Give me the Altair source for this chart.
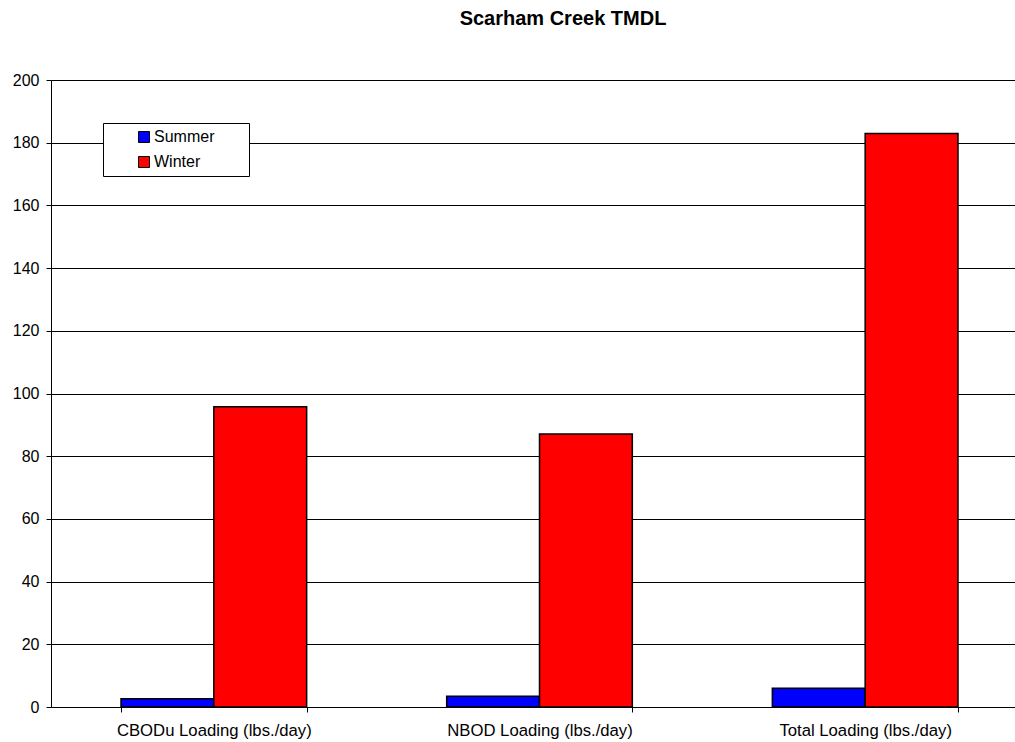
import altair as alt
import pandas as pd

# Loadings per constituent, summer vs winter (lbs./day)
categories = ["CBODu Loading (lbs./day)", "NBOD Loading (lbs./day)", "Total Loading (lbs./day)"]
seasons = ["Summer", "Winter"]
summer_values = [2.6, 3.4, 6.0]
winter_values = [95.8, 87.1, 182.9]
season_colors = ["#0000FF", "#FF0000"]

rows = []
for cat, s, w in zip(categories, summer_values, winter_values):
    rows.append({"Category": cat, "Season": "Summer", "Load": s})
    rows.append({"Category": cat, "Season": "Winter", "Load": w})
df = pd.DataFrame(rows)

FONT = "Liberation Sans"

bars = alt.Chart(df).mark_bar(stroke="black", strokeWidth=1.5).encode(
    x=alt.X(
        "Category:N",
        sort=categories,
        title=None,
        scale=alt.Scale(range=[0, 977], paddingInner=0.43, paddingOuter=0.215),
        axis=alt.Axis(
            labelAngle=0,
            tickBand="extent",
            tickSize=5,
            tickColor="black",
            domainColor="black",
            labelPadding=10,
            labelFontSize=16.7,
            labelFont=FONT,
            labelColor="black",
            labelLimit=400,
            grid=False,
        ),
    ),
    xOffset=alt.XOffset("Season:N", sort=seasons, scale=alt.Scale(paddingInner=0, paddingOuter=0)),
    y=alt.Y(
        "Load:Q",
        title=None,
        scale=alt.Scale(domain=[0, 200], nice=False),
        axis=alt.Axis(
            values=list(range(0, 201, 20)),
            tickSize=5,
            tickColor="black",
            domainColor="black",
            labelPadding=7,
            labelFontSize=16,
            labelFont=FONT,
            labelColor="black",
            grid=True,
            gridColor="black",
            gridWidth=1,
        ),
    ),
    color=alt.Color(
        "Season:N",
        sort=seasons,
        scale=alt.Scale(domain=seasons, range=season_colors),
        legend=alt.Legend(
            # a blank title on the right side widens the boxed legend
            title=" ",
            titleOrient="right",
            titlePadding=29,
            titleFontSize=16,
            orient="none",
            legendX=52,
            legendY=43,
            fillColor="white",
            strokeColor="black",
            padding=6,
            symbolType="square",
            symbolSize=121,
            symbolStrokeColor="black",
            symbolStrokeWidth=1,
            symbolOffset=27,
            labelOffset=2,
            labelFontSize=16,
            labelFont=FONT,
            labelColor="black",
            rowPadding=9,
        ),
    ),
)

chart = bars.properties(
    width=964,
    height=627,
    title=alt.TitleParams(
        "Scarham Creek TMDL",
        font=FONT,
        fontSize=20,
        fontWeight="bold",
        color="black",
        anchor="middle",
        frame="group",
        baseline="alphabetic",
        dx=30,
        offset=27,
    ),
    autosize=alt.AutoSizeParams(type="none"),
    padding={"left": 51, "top": 80, "right": 0, "bottom": 35},
).configure_view(stroke=None).configure(background="white")

chart.save("out.html", embed_options={"renderer": "svg", "actions": False})
